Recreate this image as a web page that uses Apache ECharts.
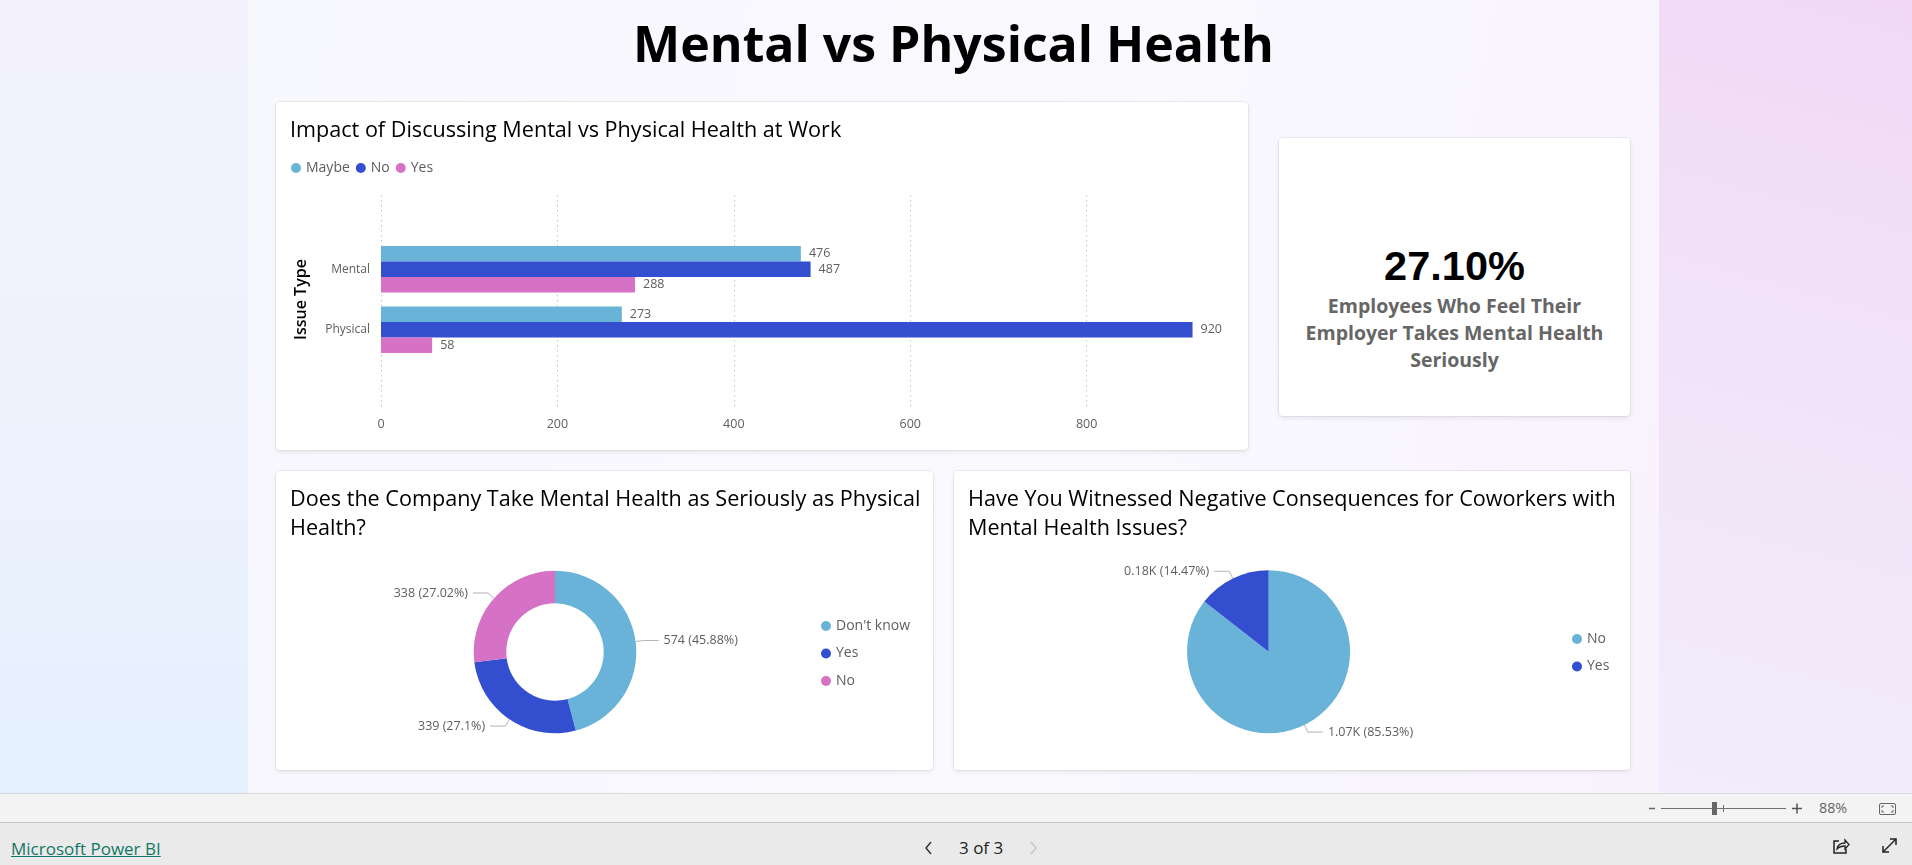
<!DOCTYPE html>
<html>
<head>
<meta charset="utf-8">
<title>Mental vs Physical Health</title>
<script src="https://cdn.jsdelivr.net/npm/echarts@6/dist/echarts.min.js"></script>
<style>
  html, body { margin: 0; padding: 0; width: 1912px; height: 865px; overflow: hidden; font-family: "Segoe UI", "Open Sans", sans-serif; background: #F6F7FE; }
  .abs { position: absolute; }
  #bgLeft { left: 0; top: 0; width: 248px; height: 793px; background: linear-gradient(180deg, #F4F3FD 0%, #EEF2FD 50%, #E4F0FD 100%); }
  #bgRight { left: 1659px; top: 0; width: 253px; height: 793px; background: linear-gradient(195deg, #F1D9F6 0%, #F2E3F8 45%, #F1EDFC 100%); }
  #page { left: 248px; top: 0; width: 1411px; height: 793px; background: linear-gradient(100deg, #F7F7FE 0%, #F9F9FE 60%, #F8F2FC 100%); }
  #pageTitle { left: 248px; top: 9px; width: 1411px; text-align: center; font: 700 50px "Segoe UI", "Open Sans", sans-serif; line-height: 68px; color: #000; }
  .card { position: absolute; background: #fff; border-radius: 4px; box-shadow: 0 0 0 1px rgba(0,0,0,0.05), 0 2px 5px rgba(0,0,0,0.08); }
  .chart { position: absolute; left: 0; top: 0; width: 100%; height: 100%; }
  #kpiValue { position: absolute; left: 0; top: 103.6px; width: 100%; text-align: center; font: 700 41.5px "Liberation Sans", Arial, sans-serif; line-height: 47px; color: #000; }
  #kpiLabel { position: absolute; left: 0; top: 153.6px; width: 100%; text-align: center; font: 700 19.5px "Segoe UI", "Open Sans", sans-serif; line-height: 27px; color: #666; }
  #zoomBar { left: 0; top: 793px; width: 1912px; height: 28px; background: #F3F3F3; border-top: 1px solid #DADADA; border-bottom: 1px solid #C6C6C6; }
  #footer { left: 0; top: 823px; width: 1912px; height: 42px; background: #EAEAEA; }
  #pbiLink { left: 11px; top: 837px; font-size: 17px; line-height: 24px; color: #117865; text-decoration: underline; }
  #pager { left: 959px; top: 836px; font-size: 17px; line-height: 24px; color: #222; }
  #zoomPct { left: 1819px; top: 798px; font-size: 14.3px; line-height: 20px; color: #666; }
</style>
</head>
<body>
<div id="bgLeft" class="abs"></div>
<div id="bgRight" class="abs"></div>
<div id="page" class="abs"></div>
<div id="pageTitle" class="abs">Mental vs Physical Health</div>

<div class="card" style="left:276px;top:102px;width:972px;height:348px"><div id="barChart" class="chart"></div></div>
<div class="card" style="left:1279px;top:138px;width:351px;height:278px">
  <div id="kpiValue"></div>
  <div id="kpiLabel">Employees Who Feel Their<br>Employer Takes Mental Health<br>Seriously</div>
</div>
<div class="card" style="left:276px;top:471px;width:657px;height:299px"><div id="seriousChart" class="chart"></div></div>
<div class="card" style="left:954px;top:471px;width:676px;height:299px"><div id="witnessChart" class="chart"></div></div>

<div id="zoomBar" class="abs"></div>
<div id="footer" class="abs"></div>
<div id="pbiLink" class="abs">Microsoft Power BI</div>
<div id="pager" class="abs">3 of 3</div>
<div id="zoomPct" class="abs">88%</div>
<svg class="abs" style="left:0;top:793px" width="1912" height="72">
  <!-- zoom slider -->
  <line x1="1649" y1="15.5" x2="1655" y2="15.5" stroke="#666" stroke-width="1.5"/>
  <line x1="1661" y1="15.5" x2="1786" y2="15.5" stroke="#707070" stroke-width="1"/>
  <rect x="1712" y="9" width="5" height="13" fill="#666"/>
  <line x1="1723.5" y1="12" x2="1723.5" y2="19" stroke="#707070" stroke-width="1"/>
  <line x1="1792" y1="15.5" x2="1802" y2="15.5" stroke="#555" stroke-width="1.5"/>
  <line x1="1797" y1="10.5" x2="1797" y2="20.5" stroke="#555" stroke-width="1.5"/>
  <rect x="1879.5" y="10.5" width="16" height="11" rx="1.5" fill="none" stroke="#666" stroke-width="1"/>
  <path d="M1882 15 v-2 h2 M1891 13 h2 v2 M1893 17 v2 h-2 M1884 19 h-2 v-2" fill="none" stroke="#666" stroke-width="1"/>
  <!-- pager chevrons -->
  <polyline points="931,49 926,55 931,61" fill="none" stroke="#333" stroke-width="1.5"/>
  <polyline points="1031,49 1036,55 1031,61" fill="none" stroke="#C8C8C8" stroke-width="1.5"/>
  <!-- share icon -->
  <path d="M1839 48 h-5 v12 h12 v-4" fill="none" stroke="#222" stroke-width="1.5"/>
  <path d="M1837 56 q1 -6 8 -6 v-3 l4 4.5 l-4 4.5 v-3 q-5 0 -8 3z" fill="none" stroke="#222" stroke-width="1.3"/>
  <!-- expand icon -->
  <line x1="1883" y1="59" x2="1896" y2="46" stroke="#222" stroke-width="1.5"/>
  <polyline points="1890,46 1896,46 1896,52" fill="none" stroke="#222" stroke-width="1.5"/>
  <polyline points="1883,53 1883,59 1889,59" fill="none" stroke="#222" stroke-width="1.5"/>
</svg>

<script>
// ---- data ----
const issueTypes = ['Mental', 'Physical'];
const maybeCounts = [476, 273];
const noCounts = [487, 920];
const yesCounts = [288, 58];

const seriousLabels = ["Don't know", 'Yes', 'No'];
const seriousCounts = [574, 339, 338];

const witnessLabels = ['No', 'Yes'];
const witnessCounts = [1070, 181];

// ---- styles ----
const FONT = '"Segoe UI", "Open Sans", sans-serif';
const cLight = '#6AB3D8';
const cDark = '#334FD0';
const cPink = '#D672C6';
const labelGray = '#605E5C';
const titleStyle = {fontSize: 21.6, fontWeight: 500, color: '#000', lineHeight: 28.3, fontFamily: FONT};

// KPI = share of "Yes" answers
let seriousTotal = seriousCounts.reduce((a, b) => a + b, 0);
document.getElementById('kpiValue').textContent = (seriousCounts[1] / seriousTotal * 100).toFixed(2) + '%';

function barSeries(name, data, color) {
    return {
        name: name,
        type: 'bar',
        xAxisIndex: 1,
        yAxisIndex: 1,
        data: data,
        barWidth: 15.5,
        barGap: '0%',
        itemStyle: {color: color},
        label: {show: true, position: 'right', distance: 8, color: labelGray, fontSize: 12.5, fontFamily: FONT},
        emphasis: {disabled: true}
    };
}

let barChart = echarts.init(document.getElementById('barChart'));
barChart.setOption({
    animation: false,
    textStyle: {fontFamily: FONT},
    title: {
        text: 'Impact of Discussing Mental vs Physical Health at Work',
        left: 9,
        top: 10,
        textStyle: titleStyle
    },
    legend: {
        left: 10,
        top: 53,
        icon: 'circle',
        itemWidth: 10,
        itemHeight: 10,
        itemGap: 6,
        textStyle: {fontSize: 14, color: labelGray, lineHeight: 16},
        data: ['Maybe', 'No', 'Yes']
    },
    grid: [
        {left: 105, width: 838, top: 93, height: 215},
        {left: 105, width: 838, top: 137, height: 121}
    ],
    xAxis: [
        {
            gridIndex: 0,
            type: 'value',
            min: 0,
            max: 950,
            interval: 200,
            axisLine: {show: false},
            axisTick: {show: false},
            axisLabel: {color: labelGray, fontSize: 12.5, margin: 8, showMaxLabel: false},
            splitLine: {show: true, showMaxLine: false, lineStyle: {type: [1.5, 3.5], color: '#C4C4C4', width: 1}}
        },
        {gridIndex: 1, type: 'value', min: 0, max: 950, show: false}
    ],
    yAxis: [
        {gridIndex: 0, type: 'category', data: issueTypes, show: false},
        {
            gridIndex: 1,
            type: 'category',
            data: issueTypes,
            inverse: true,
            axisLine: {show: false},
            axisTick: {show: false},
            axisLabel: {color: labelGray, fontSize: 12, margin: 11},
            name: 'Issue Type',
            nameLocation: 'middle',
            nameRotate: 90,
            nameGap: 72,
            nameTextStyle: {fontSize: 16, fontWeight: 600, color: '#000'}
        }
    ],
    series: [
        barSeries('Maybe', maybeCounts, cLight),
        barSeries('No', noCounts, cDark),
        barSeries('Yes', yesCounts, cPink)
    ]
});

function pieOption(title, names, values, colors, radius, center, legendPos, fmt) {
    return {
        animation: false,
        textStyle: {fontFamily: FONT},
        title: {text: title, left: 9, top: 10, textStyle: titleStyle},
        legend: {
            orient: 'vertical',
            left: legendPos[0],
            top: legendPos[1],
            icon: 'circle',
            itemWidth: 10,
            itemHeight: 10,
            itemGap: 9.5,
            textStyle: {fontSize: 14, color: labelGray, lineHeight: 18},
            data: names
        },
        series: [{
            type: 'pie',
            radius: radius,
            center: center,
            startAngle: 90,
            clockwise: true,
            data: names.map((n, i) => ({name: n, value: values[i], itemStyle: {color: colors[i]}})),
            label: {
                formatter: p => fmt(p.value) + ' (' + p.percent + '%)',
                color: labelGray,
                fontSize: 12.5,
                fontFamily: FONT
            },
            labelLine: {length: 8, length2: 15, lineStyle: {color: '#B3B3B3', width: 1}},
            emphasis: {disabled: true}
        }]
    };
}

let seriousChart = echarts.init(document.getElementById('seriousChart'));
seriousChart.setOption(pieOption(
    'Does the Company Take Mental Health as Seriously as Physical\nHealth?',
    seriousLabels, seriousCounts, [cLight, cDark, cPink],
    [48.7, 81.3], [279, 181], [540, 141],
    v => String(v)
));

let witnessChart = echarts.init(document.getElementById('witnessChart'));
witnessChart.setOption(pieOption(
    'Have You Witnessed Negative Consequences for Coworkers with\nMental Health Issues?',
    witnessLabels, witnessCounts, [cLight, cDark],
    [0, 81.5], [314.6, 180.7], [613, 154],
    v => (v / 1000).toFixed(2) + 'K'
));
</script>
</body>
</html>
